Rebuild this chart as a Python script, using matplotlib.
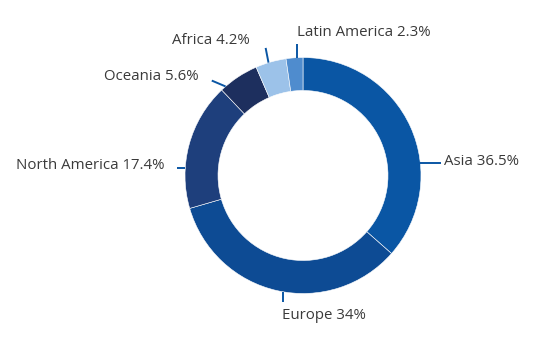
import numpy as np
import matplotlib.pyplot as plt

regions = ["Asia", "Europe", "North America", "Oceania", "Africa", "Latin America"]
shares = [36.5, 34, 17.4, 5.6, 4.2, 2.3]
colors = ["#0a56a4", "#0d4b94", "#1e3f7c", "#1d2f5e", "#9cc2e9", "#4f8cce"]

# label leader placement: where the leader leaves the ring (deg clockwise
# from top), its direction, its length, and the text offset from its end (px)
label_angle = [84, 189.6, 273.8, 319, 343, 357]
leader_dir = [90, 180, 270, 293, 349, 0]
leader_len = [21, 10, 8, 15, 15, 14]
text_dx = [3, -1, -13, -13, -16, 0]
text_dy = [2, 17, 1, -1, -4, -8]
text_ha = ["left", "left", "right", "right", "right", "left"]

W, H = 536, 345
cx, cy = 303, 175.5
R, ring = 118, 33

plt.rcParams["font.family"] = ["Open Sans", "DejaVu Sans"]

fig = plt.figure(figsize=(W / 100, H / 100), dpi=100)
ax = fig.add_axes([0, 0, 1, 1])
ax.axis("off")

ax.pie(shares, colors=colors, startangle=90, counterclock=False,
       center=(cx, H - cy), radius=R,
       wedgeprops=dict(width=ring, edgecolor="white", linewidth=0.4))
ax.set_xlim(0, W)
ax.set_ylim(0, H)
ax.set_aspect("equal")

for name, val, a, d, L, dx, dy, ha in zip(regions, shares, label_angle, leader_dir,
                                          leader_len, text_dx, text_dy, text_ha):
    t, u = np.radians(a), np.radians(d)
    x0, y0 = cx + R * np.sin(t), cy - R * np.cos(t)
    x1, y1 = x0 + L * np.sin(u), y0 - L * np.cos(u)
    ax.plot([x0, x1], [H - y0, H - y1], color="#0a56a4", lw=1.4,
            solid_capstyle="butt")
    ax.text(x1 + dx, H - (y1 + dy), f"{name} {val:g}%", ha=ha, va="baseline",
            fontsize=10.8, color="#3a3a3a")

fig.savefig("out.png", dpi=100)
